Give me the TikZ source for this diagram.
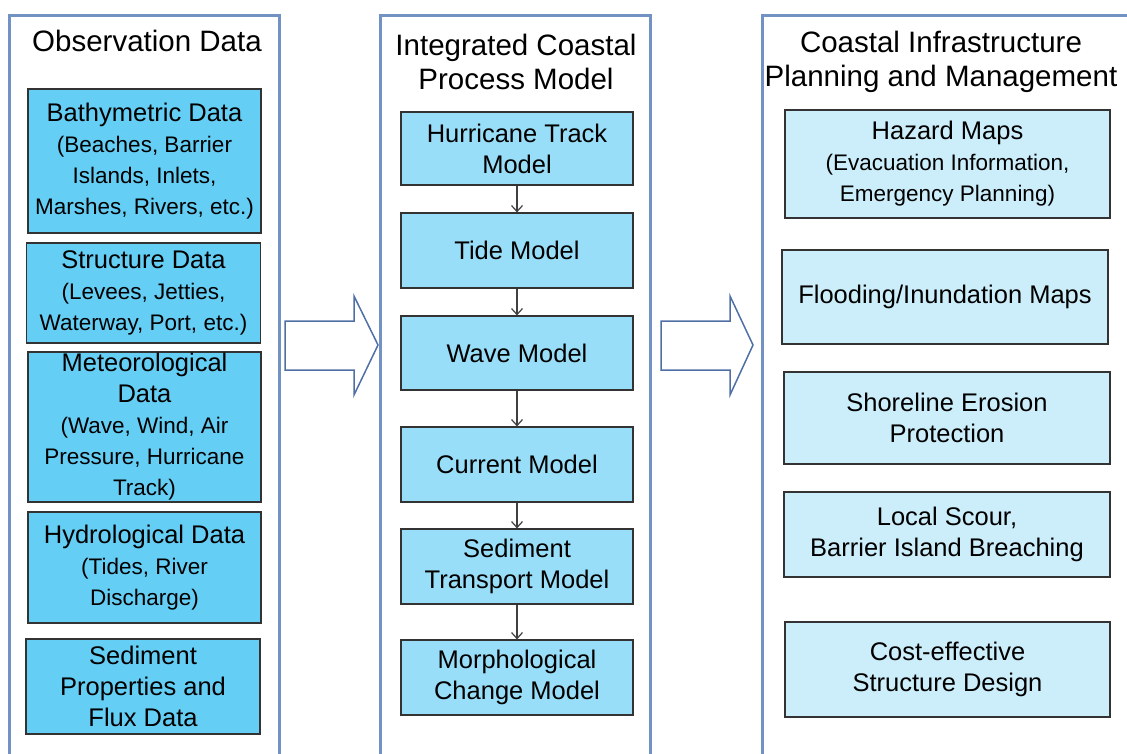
\documentclass[tikz,border=0pt]{standalone}
\usepackage{fontspec}
\setmainfont{Liberation Sans}
\usepackage{tikz}
\usetikzlibrary{arrows.meta,positioning}
\definecolor{framebl}{RGB}{115,146,196}
\definecolor{arrbl}{RGB}{80,112,165}
\definecolor{obsfill}{RGB}{100,206,245}
\definecolor{modfill}{RGB}{153,222,248}
\definecolor{mgtfill}{RGB}{204,238,250}
\newcommand{\subtxt}{\fontsize{22.5}{28.5}\selectfont}
\tikzset{
  box/.style={draw=black!80, line width=1.2pt, align=center, inner sep=0pt, font=\fontsize{25.5}{31}\selectfont},
  obsbox/.style={box, fill=obsfill},
  modbox/.style={box, fill=modfill, minimum width=232pt},
  mgtbox/.style={box, fill=mgtfill},
  frame/.style={draw=framebl, line width=3pt},
  titletxt/.style={align=center, inner sep=0pt, font=\fontsize{29.5}{34}\selectfont},
  flowarrow/.style={draw=black!75, line width=1.2pt, -{Straight Barb[length=6pt,width=11pt]}},
  bigarrow/.style={draw=arrbl, fill=white, line width=1.5pt, line join=miter}
}

\begin{document}
\begin{tikzpicture}[x=1pt,y=-1pt]
\useasboundingbox (0,0) rectangle (1127,754);
\clip (0,0) rectangle (1127,754);
\draw [frame] (9,16) rectangle (279,780);
\draw [frame] (380,16) rectangle (650,780);
\draw [frame] (762,16) rectangle (1150,780);

\node [titletxt, anchor=base] (obs) at (147,52) {Observation Data};
\node [titletxt] (mod) at (516,62) {Integrated Coastal\\Process Model};
\node [titletxt] (mgt) at (941,62) {Coastal Infrastructure\\Planning and Management};

\node [obsbox, minimum width=233pt, minimum height=144pt] (bathy) at (144.5,161)
  {Bathymetric Data\\ \subtxt (Beaches, Barrier\\ \subtxt Islands, Inlets,\\ \subtxt Marshes, Rivers, etc.)};
\node [obsbox, minimum width=234pt, minimum height=100pt] (struct) at (143.5,293)
  {Structure Data\\ \subtxt (Levees, Jetties,\\ \subtxt Waterway, Port, etc.)};
\node [obsbox, minimum width=233pt, minimum height=150pt] (meteo) at (144.5,427)
  {Meteorological\\Data\\ \subtxt (Wave, Wind, Air\\ \subtxt Pressure, Hurricane\\ \subtxt Track)};
\node [obsbox, minimum width=233pt, minimum height=111pt] (hydro) at (144.5,567.5)
  {Hydrological Data\\ \subtxt (Tides, River\\ \subtxt Discharge)};
\node [obsbox, minimum width=234pt, minimum height=95pt] (sedim) at (143,686.5)
  {Sediment\\Properties and\\Flux Data};

\node [modbox, minimum height=73pt] (hurr)  at (517,148.5) {Hurricane Track\\Model};
\node [modbox, minimum height=75pt] (tide)  at (517,250.5) {Tide Model};
\node [modbox, minimum height=74pt] (wave)  at (517,353)   {Wave Model};
\node [modbox, minimum height=75pt] (curr)  at (517,464.5) {Current Model};
\node [modbox, minimum height=75pt] (trans) at (517,566.5) {Sediment\\Transport Model};
\node [modbox, minimum height=75pt] (morph) at (517,677.5) {Morphological\\Change Model};
\draw [flowarrow] (hurr) -- (tide);
\draw [flowarrow] (tide) -- (wave);
\draw [flowarrow] (wave) -- (curr);
\draw [flowarrow] (curr) -- (trans);
\draw [flowarrow] (trans) -- (morph);

\node [mgtbox, minimum width=325pt, minimum height=108pt] (hazard) at (947.5,164)
  {Hazard Maps\\ \subtxt (Evacuation Information,\\ \subtxt Emergency Planning)};
\node [mgtbox, minimum width=326pt, minimum height=94pt] (flood) at (945,297) {Flooding/Inundation Maps};
\node [mgtbox, minimum width=326pt, minimum height=92pt] (shore) at (947,418) {Shoreline Erosion\\Protection};
\node [mgtbox, minimum width=326pt, minimum height=85pt] (scour) at (947,534.5) {Local Scour,\\Barrier Island Breaching};
\node [mgtbox, minimum width=325pt, minimum height=95pt] (cost) at (947.5,669.5) {Cost-effective\\Structure Design};

\draw [bigarrow] (285,321) -- (354,321) -- (354,296) -- (378,345) -- (354,395) -- (354,370) -- (285,370) -- cycle;
\draw [bigarrow] (661,321) -- (730,321) -- (730,296) -- (753,345) -- (730,395) -- (730,370) -- (661,370) -- cycle;
\end{tikzpicture}
\end{document}
